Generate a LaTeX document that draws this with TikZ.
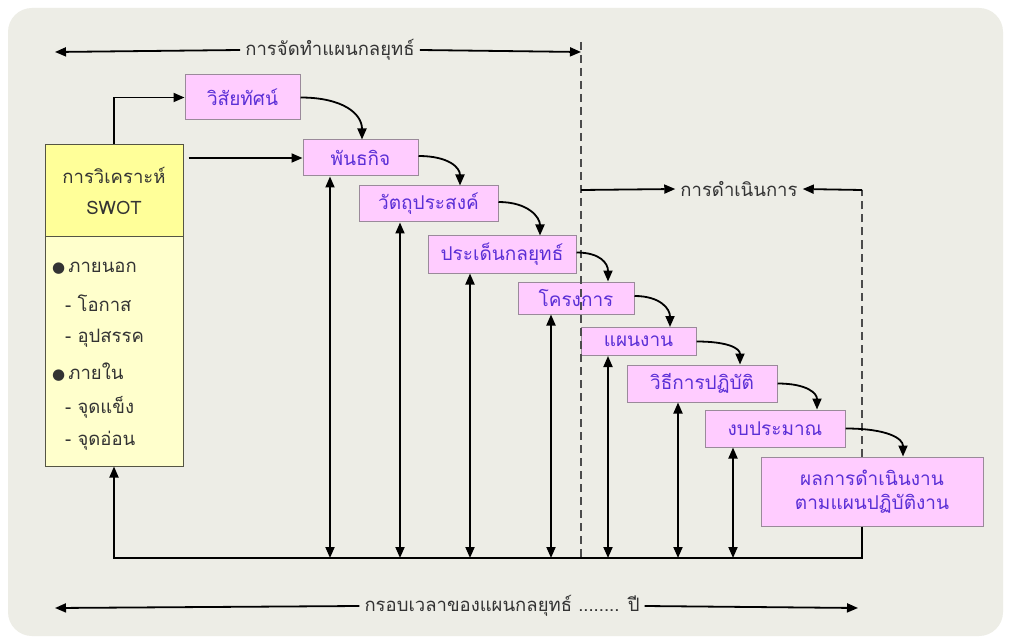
\documentclass[tikz,border=0pt]{standalone}
\usepackage{fontspec}
\newfontfamily\thaifont[Script=Thai]{Loma}
\newfontfamily\symfont{DejaVu Sans}
\usetikzlibrary{arrows.meta}
\definecolor{bgc}{HTML}{EDEDE6}
\definecolor{boxpink}{HTML}{FFCCFF}
\definecolor{boxtxt}{HTML}{5B2FD6}
\definecolor{boxline}{HTML}{9A8A9A}
\definecolor{swottop}{HTML}{FFFF99}
\definecolor{swotbot}{HTML}{FFFFCC}
\definecolor{swotline}{HTML}{555544}
\definecolor{txtc}{HTML}{333333}
\tikzset{
  pbox/.style={draw=boxline, line width=1pt, fill=boxpink, text=boxtxt, inner sep=0pt, align=center, font=\thaifont\fontsize{19}{22}\selectfont},
  arr/.style={line width=1.8pt, -{Triangle[length=11pt,width=9pt]}},
  darr/.style={line width=1.8pt, {Triangle[length=11pt,width=9pt]}-{Triangle[length=11pt,width=9pt]}},
  dline/.style={line width=1.3pt, draw=black!70, dash pattern=on 8pt off 5pt},
  lbl/.style={text=txtc, inner sep=5pt},
  swtxt/.style={text=txtc, anchor=west, inner sep=0pt}
}
\begin{document}
\begin{tikzpicture}[x=1pt,y=-1pt, font=\thaifont\fontsize{18.5}{22}\selectfont]
\useasboundingbox (0,0) rectangle (1011,644);
\fill[white] (0,0) rectangle (1011,644);
\fill[bgc, rounded corners=24pt] (8,8) rectangle (1003,636);

% SWOT boxes
\node[draw=swotline, line width=1pt, fill=swottop, minimum width=138pt, minimum height=92pt, inner sep=0pt, align=center, text=txtc] (swot) at (114,191) {การวิเคราะห์\\[9pt]SWOT};
\node[draw=swotline, line width=1pt, fill=swotbot, minimum width=138pt, minimum height=229pt, inner sep=0pt] (swotlist) at (114,351.5) {};
\node[swtxt] (l1) at (52,268) {{\symfont\fontsize{15}{15}\selectfont ●}\,ภายนอก};
\node[swtxt] (l2) at (65,303) {- โอกาส};
\node[swtxt] (l3) at (65,338) {- อุปสรรค};
\node[swtxt] (l4) at (52,372) {{\symfont\fontsize{15}{15}\selectfont ●}\,ภายใน};
\node[swtxt] (l5) at (65,407) {- จุดแข็ง};
\node[swtxt] (l6) at (65,441) {- จุดอ่อน};

% step boxes
\node[pbox, minimum width=115pt, minimum height=45pt] (vis) at (242.5,97.5) {วิสัยทัศน์};
\node[pbox, minimum width=115pt, minimum height=36pt] (pan) at (360.5,158) {พันธกิจ};
\node[pbox, minimum width=139pt, minimum height=36pt] (wat) at (428.5,204) {วัตถุประสงค์};
\node[pbox, minimum width=148pt, minimum height=37pt] (pra) at (502,254.5) {ประเด็นกลยุทธ์};
\node[pbox, minimum width=116pt, minimum height=32pt] (kro) at (576,298) {โครงการ};
\node[pbox, minimum width=115pt, minimum height=28pt] (pae) at (638.5,341.5) {แผนงาน};
\node[pbox, minimum width=150pt, minimum height=37pt] (wit) at (702,383.5) {วิธีการปฏิบัติ};
\node[pbox, minimum width=140pt, minimum height=37pt] (ngob) at (775,428.5) {งบประมาณ};
\node[pbox, minimum width=222pt, minimum height=69pt] (pon) at (872,491.5) {ผลการดำเนินงาน\\[2pt]ตามแผนปฏิบัติงาน};

% coordinates
\coordinate (bl) at (114,558);
\coordinate (d1t) at (581,42);
\coordinate (d1b) at (581,558);
\coordinate (d2t) at (862,190);
\coordinate (topL) at (55,52);
\coordinate (topR) at (581,52);
\coordinate (botL) at (55,608);
\coordinate (botR) at (858,608);
\coordinate (exL) at (581,190);

% dashed lines
\draw[dline] (d1t) -- (d1b);
\draw[dline] ([xshift=-10pt]pon.north) -- (d2t);

% SWOT arrows
\draw[arr] (swot.north) |- (vis.west);
\draw[arr] ([xshift=5pt]swot.east |- pan.west) -- (pan.west);

% curved arrows
\draw[arr] (vis.east) .. controls +(42,0) and +(0,-26) .. ([xshift=1.5pt]pan.north);
\draw[arr] ([yshift=2pt]pan.east) .. controls +(30,0) and +(0,-18) .. ([xshift=31.5pt]wat.north);
\draw[arr] ([yshift=2pt]wat.east) .. controls +(30,0) and +(0,-18) .. ([xshift=38pt]pra.north);
\draw[arr] ([yshift=2pt]pra.east) .. controls +(24,0) and +(0,-18) .. ([xshift=32pt]kro.north);
\draw[arr] ([yshift=2pt]kro.east) .. controls +(26,0) and +(0,-18) .. ([xshift=31.5pt]pae.north);
\draw[arr] (pae.east) .. controls +(32,0) and +(0,-16) .. ([xshift=38pt]wit.north);
\draw[arr] (wit.east) .. controls +(30,0) and +(0,-16) .. ([xshift=42pt]ngob.north);
\draw[arr] (ngob.east) .. controls +(42,0) and +(0,-18) .. ([xshift=31pt]pon.north);

% vertical double arrows
\draw[darr] ([xshift=-30.5pt]pan.south) -- ([xshift=-30.5pt]pan.south |- bl);
\draw[darr] ([xshift=-28.5pt]wat.south) -- ([xshift=-28.5pt]wat.south |- bl);
\draw[darr] ([xshift=-32pt]pra.south) -- ([xshift=-32pt]pra.south |- bl);
\draw[darr] ([xshift=-25pt]kro.south) -- ([xshift=-25pt]kro.south |- bl);
\draw[darr] ([xshift=-30.5pt]pae.south) -- ([xshift=-30.5pt]pae.south |- bl);
\draw[darr] ([xshift=-24pt]wit.south) -- ([xshift=-24pt]wit.south |- bl);
\draw[darr] ([xshift=-42pt]ngob.south) -- ([xshift=-42pt]ngob.south |- bl);

% bottom feedback line
\draw[arr] ([xshift=-10pt]pon.south) |- (bl) -- (swotlist.south);

% top label
\node[lbl] (tplan) at (330,50) {การจัดทำแผนกลยุทธ์};
\draw[arr] (tplan.west) -- (topL);
\draw[arr] (tplan.east) -- (topR);

% execution label
\node[lbl] (exe) at (739,189) {การดำเนินการ};
\draw[arr] (exL) -- (exe.west);
\draw[arr] (d2t) -- (exe.east);

% bottom label
\node[lbl] (tframe) at (502,606) {กรอบเวลาของแผนกลยุทธ์ ........ ปี};
\draw[arr] (tframe.west) -- (botL);
\draw[arr] (tframe.east) -- (botR);
\end{tikzpicture}
\end{document}
